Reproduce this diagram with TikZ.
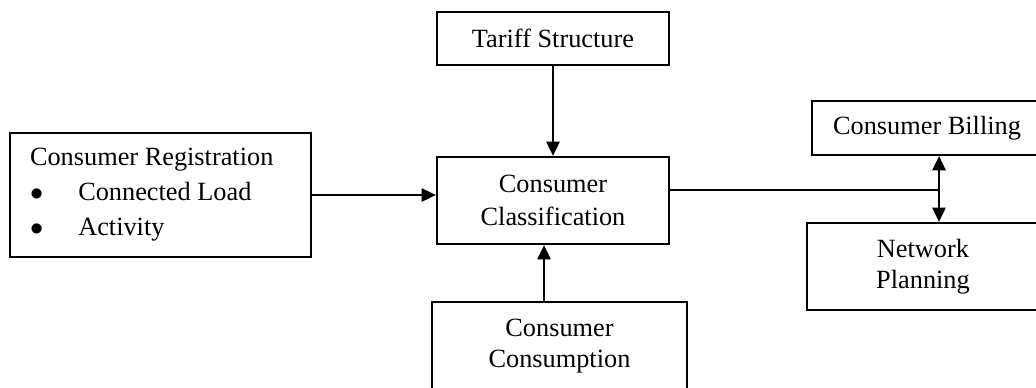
\documentclass[tikz,border=0pt]{standalone}
\usepackage{fontspec}
\setmainfont{Liberation Serif}
\usetikzlibrary{arrows.meta}
\begin{document}
\begin{tikzpicture}[x=0.456pt, y=-0.456pt, line width=1pt,
    >={Triangle[length=6.5pt, width=6pt]},
    block/.style={draw, align=center, inner sep=0pt, font=\fontsize{12}{15}\selectfont}]
\useasboundingbox (0,0) rectangle (1036,387);
\clip (0,0) rectangle (1036,387);
\node (tariff) at (553, 38.5) [block, minimum width=105.8pt, minimum height=24.2pt] {Tariff Structure};
\node (classif) at (553, 200.5) [block, minimum width=105.8pt, minimum height=39.7pt] {Consumer\\Classification};
\node (reg) at (160.5, 195) [block, align=flush left, inner xsep=9.1pt, text width=119pt, minimum height=56.5pt,
    font=\fontsize{12}{16}\selectfont] {
    Consumer Registration\\
    \makebox[22pt][l]{$\bullet$}Connected Load\\
    \makebox[22pt][l]{$\bullet$}Activity
};
\node (consum) at (559.5, 346) [block, minimum width=116.3pt, minimum height=40.1pt,
    font=\fontsize{12}{14}\selectfont] {Consumer\\Consumption};
\node (billing) at (927, 128) [block, minimum width=104.9pt, minimum height=24.6pt] {Consumer Billing};
\node (network) at (923, 266.5) [block, minimum width=105.8pt, minimum height=39.7pt,
    font=\fontsize{12}{14}\selectfont] {Network\\Planning};
\coordinate (junction) at (939, 190);
\coordinate (tap) at (544, 272);

\draw[->] (tariff) -- (classif);
\draw[->] (reg.east) -- (reg.east -| classif.west);
\draw[->] (consum.north -| tap) -- (classif.south -| tap);
\draw (classif.east |- junction) -- (junction);
\draw[<->] (billing.south -| junction) -- (network.north -| junction);
\end{tikzpicture}
\end{document}
